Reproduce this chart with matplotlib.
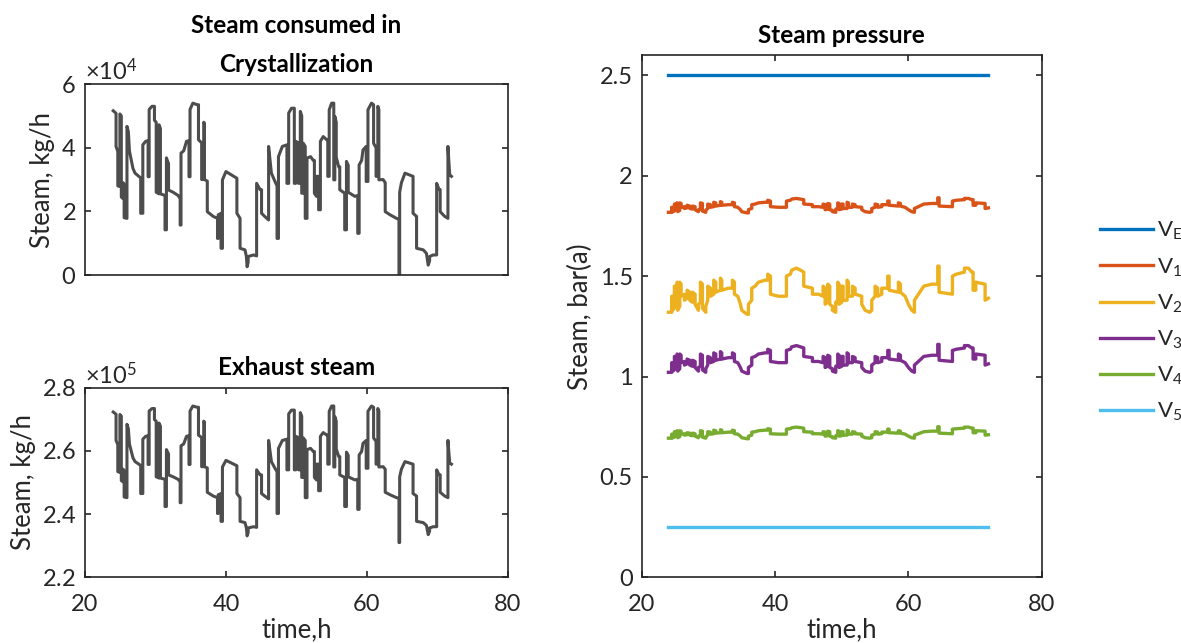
import matplotlib
matplotlib.use("Agg")
import matplotlib.pyplot as plt
from matplotlib.ticker import ScalarFormatter

# ---------------------------------------------------------------- data
# Steam flows (kg/h) sampled at the listed process times (h)
steam_time = [
    24.00, 24.40, 24.40, 24.65, 24.65, 24.95, 24.95, 25.15, 25.15, 25.40,
    25.40, 25.55, 25.55, 25.95, 25.95, 26.15, 26.30, 26.80, 27.10, 27.90,
    27.90, 28.20, 28.20, 28.60, 28.95, 28.95, 29.10, 29.10, 29.50, 29.85,
    29.85, 30.10, 30.10, 30.50, 30.50, 30.70, 30.70, 31.35, 31.35, 31.55,
    31.55, 31.85, 31.85, 32.50, 33.20, 33.50, 33.50, 33.62, 33.62, 34.00,
    34.40, 34.75, 34.75, 34.90, 34.90, 35.30, 35.90, 36.10, 36.10, 36.55,
    36.55, 36.85, 36.85, 36.95, 36.95, 37.35, 37.35, 38.20, 38.80, 38.80,
    38.90, 38.90, 39.30, 39.30, 39.50, 39.50, 40.00, 41.55, 41.55, 42.00,
    42.00, 42.70, 42.90, 43.00, 43.15, 43.15, 43.90, 44.35, 44.35, 44.85,
    45.05, 45.05, 45.50, 46.05, 46.05, 46.45, 46.95, 47.25, 47.25, 47.45,
    47.45, 48.00, 48.65, 48.65, 48.90, 48.90, 49.30, 49.70, 49.70, 49.90,
    49.90, 50.30, 50.30, 50.55, 50.55, 50.75, 50.75, 50.97, 50.97, 51.25,
    51.25, 51.50, 51.50, 52.00, 52.40, 52.55, 52.55, 52.85, 52.85, 53.15,
    53.15, 53.40, 53.40, 53.80, 54.30, 54.45, 54.45, 54.65, 54.65, 55.00,
    55.30, 55.30, 55.45, 55.45, 55.65, 55.65, 56.00, 56.15, 56.15, 56.85,
    56.85, 57.10, 57.10, 57.35, 57.35, 58.30, 58.70, 58.70, 58.90, 58.90,
    59.25, 59.45, 59.90, 59.90, 60.15, 60.15, 60.65, 60.95, 60.95, 61.30,
    61.30, 61.55, 61.55, 61.70, 61.70, 62.30, 62.60, 62.60, 63.30, 64.20,
    64.55, 64.55, 64.65, 64.65, 64.90, 65.40, 66.55, 66.55, 67.05, 67.05,
    68.00, 68.45, 68.70, 68.90, 68.90, 69.40, 69.90, 69.90, 70.25, 70.40,
    70.40, 71.05, 71.50, 71.50, 71.75, 72.00,
]

steam_crystallization = [
    51600, 50800, 40400, 38800, 28000, 27800, 50600, 50000, 24500, 24000,
    29000, 28500, 18000, 17800, 46700, 45000, 39000, 33500, 32000, 30500,
    19400, 19400, 40900, 42000, 42200, 30900, 30900, 52000, 53000, 53000,
    48600, 48000, 26000, 25500, 47200, 46000, 25500, 25000, 14200, 14200,
    36800, 35000, 26700, 26000, 25000, 24000, 15700, 15700, 38300, 39000,
    42000, 42200, 30900, 30900, 52000, 54000, 53500, 53500, 42500, 41500,
    30000, 30000, 48000, 47500, 30000, 29500, 19900, 18400, 17800, 11500,
    11500, 18900, 19400, 8400, 8400, 29900, 32500, 30400, 19400, 17800,
    8400, 7900, 5800, 2600, 4000, 5800, 6300, 6000, 28800, 26800,
    26800, 19400, 18400, 17300, 40400, 32000, 29400, 28000, 11500, 11500,
    37200, 40400, 40900, 28800, 28800, 50900, 52400, 52400, 28800, 28800,
    42000, 41500, 28800, 28800, 51400, 50000, 25700, 25700, 41400, 40400,
    17800, 17800, 36700, 37200, 36000, 36000, 25700, 24700, 31000, 31000,
    20500, 20500, 42000, 43500, 42500, 42500, 31000, 31000, 51900, 54000,
    54000, 29900, 29900, 49800, 48000, 37000, 34000, 34000, 26800, 25700,
    14200, 14200, 35700, 34500, 26000, 24700, 25000, 13100, 13100, 34600,
    36000, 39300, 40400, 29400, 29400, 51900, 54000, 53500, 41400, 40000,
    31000, 31000, 53000, 52000, 29900, 30000, 29000, 19900, 18900, 17800,
    17500, 0, 0, 26000, 29000, 32000, 31000, 19400, 18400, 8400,
    7900, 6800, 3100, 4500, 5800, 6300, 6300, 28800, 26800, 26800,
    19900, 18400, 17800, 40400, 31500, 31000,
]

steam_exhaust = [
    272300, 271600, 263300, 262000, 253400, 253200, 271500, 271000, 250600, 250200,
    254200, 253800, 245400, 245200, 268400, 267000, 262200, 257800, 256600, 255400,
    246500, 246500, 263700, 264600, 264800, 255700, 255700, 272600, 273400, 273400,
    269900, 269400, 251800, 251400, 268800, 267800, 251400, 251000, 242400, 242400,
    260400, 259000, 252400, 251800, 251000, 250200, 243600, 243600, 261600, 262200,
    264600, 264800, 255700, 255700, 272600, 274200, 273800, 273800, 265000, 264200,
    255000, 255000, 269400, 269000, 255000, 254600, 246900, 245700, 245200, 240200,
    240200, 246100, 246500, 237700, 237700, 254900, 257000, 255300, 246500, 245200,
    237700, 237300, 235600, 233100, 234200, 235600, 236000, 235800, 254000, 252400,
    252400, 246500, 245700, 244800, 263300, 256600, 254500, 253400, 240200, 240200,
    260800, 263300, 263700, 254000, 254000, 271700, 272900, 272900, 254000, 254000,
    264600, 264200, 254000, 254000, 272100, 271000, 251600, 251600, 264100, 263300,
    245200, 245200, 260400, 260800, 259800, 259800, 251600, 250800, 255800, 255800,
    247400, 247400, 264600, 265800, 265000, 265000, 255800, 255800, 272500, 274200,
    274200, 254900, 254900, 270800, 269400, 260600, 258200, 258200, 252400, 251600,
    242400, 242400, 259600, 258600, 251800, 250800, 251000, 241500, 241500, 258700,
    259800, 262400, 263300, 254500, 254500, 272500, 274200, 273800, 264100, 263000,
    255800, 255800, 273400, 272600, 254900, 255000, 254200, 246900, 246100, 245200,
    245000, 231000, 231000, 251800, 254200, 256600, 255800, 246500, 245700, 237700,
    237300, 236400, 233500, 234600, 235600, 236000, 236000, 254000, 252400, 252400,
    246900, 245700, 245200, 263300, 256200, 255800,
]

# Evaporator body pressures, bar(a)
pressure_time = [
    24.0, 24.5, 24.5, 24.6, 24.6, 24.9, 24.9, 25.0, 25.0, 25.3,
    25.3, 25.4, 25.4, 25.7, 25.7, 25.9, 25.9, 26.4, 26.4, 26.8,
    26.8, 27.2, 27.2, 27.6, 27.6, 28.0, 28.0, 28.5, 28.5, 28.8,
    28.8, 29.1, 29.1, 29.6, 29.6, 29.9, 29.9, 30.3, 30.3, 30.8,
    30.8, 31.1, 31.1, 31.8, 31.8, 32.0, 32.0, 33.0, 33.6, 33.6,
    33.9, 33.9, 34.4, 34.8, 35.0, 35.8, 36.0, 36.0, 36.5, 36.5,
    37.0, 37.5, 38.5, 38.9, 38.9, 39.3, 39.3, 40.5, 41.7, 41.7,
    42.3, 42.5, 43.2, 43.8, 44.3, 44.3, 45.6, 45.6, 46.5, 47.2,
    47.2, 47.5, 47.5, 47.9, 47.9, 48.2, 48.2, 48.6, 48.6, 49.1,
    49.1, 49.4, 49.4, 49.6, 49.6, 50.0, 50.0, 50.2, 50.2, 50.8,
    50.8, 51.0, 51.0, 51.6, 51.6, 52.0, 52.0, 53.0, 53.0, 53.5,
    54.2, 54.5, 54.5, 55.0, 55.0, 55.4, 55.4, 56.0, 56.0, 56.9,
    56.9, 57.1, 57.1, 58.5, 58.5, 58.8, 58.8, 59.5, 60.0, 60.5,
    60.9, 60.9, 61.5, 62.3, 63.5, 64.4, 64.4, 64.6, 64.6, 66.6,
    66.6, 67.2, 68.4, 68.4, 69.0, 69.5, 69.7, 69.7, 70.1, 70.1,
    71.5, 71.5, 72.0,
]

v_1 = [
    1.818, 1.818, 1.843, 1.843, 1.821, 1.824, 1.859, 1.859, 1.831, 1.831,
    1.865, 1.862, 1.821, 1.828, 1.865, 1.862, 1.843, 1.846, 1.837, 1.840,
    1.853, 1.849, 1.837, 1.834, 1.849, 1.846, 1.831, 1.821, 1.831, 1.834,
    1.865, 1.862, 1.824, 1.818, 1.828, 1.837, 1.859, 1.856, 1.843, 1.846,
    1.868, 1.865, 1.849, 1.853, 1.871, 1.868, 1.853, 1.856, 1.856, 1.868,
    1.865, 1.846, 1.843, 1.831, 1.821, 1.815, 1.815, 1.831, 1.837, 1.856,
    1.859, 1.865, 1.868, 1.868, 1.878, 1.874, 1.846, 1.843, 1.843, 1.874,
    1.878, 1.884, 1.887, 1.884, 1.881, 1.859, 1.856, 1.846, 1.846, 1.843,
    1.859, 1.856, 1.831, 1.834, 1.862, 1.859, 1.831, 1.828, 1.821, 1.818,
    1.834, 1.837, 1.865, 1.862, 1.831, 1.834, 1.859, 1.859, 1.837, 1.837,
    1.868, 1.865, 1.843, 1.843, 1.859, 1.856, 1.846, 1.843, 1.831, 1.821,
    1.818, 1.821, 1.837, 1.843, 1.859, 1.856, 1.843, 1.846, 1.856, 1.856,
    1.874, 1.874, 1.853, 1.849, 1.865, 1.862, 1.849, 1.843, 1.831, 1.821,
    1.818, 1.837, 1.846, 1.859, 1.862, 1.862, 1.890, 1.890, 1.849, 1.846,
    1.874, 1.878, 1.881, 1.887, 1.887, 1.881, 1.881, 1.853, 1.853, 1.865,
    1.862, 1.837, 1.840,
]

v_2 = [
    1.32, 1.32, 1.40, 1.40, 1.33, 1.34, 1.45, 1.45, 1.36, 1.36,
    1.47, 1.46, 1.33, 1.35, 1.47, 1.46, 1.40, 1.41, 1.38, 1.39,
    1.43, 1.42, 1.38, 1.37, 1.42, 1.41, 1.36, 1.33, 1.36, 1.37,
    1.47, 1.46, 1.34, 1.32, 1.35, 1.38, 1.45, 1.44, 1.40, 1.41,
    1.48, 1.47, 1.42, 1.43, 1.49, 1.48, 1.43, 1.44, 1.44, 1.48,
    1.47, 1.41, 1.40, 1.36, 1.33, 1.31, 1.31, 1.36, 1.38, 1.44,
    1.45, 1.47, 1.48, 1.48, 1.51, 1.50, 1.41, 1.40, 1.40, 1.50,
    1.51, 1.53, 1.54, 1.53, 1.52, 1.45, 1.44, 1.41, 1.41, 1.40,
    1.45, 1.44, 1.36, 1.37, 1.46, 1.45, 1.36, 1.35, 1.33, 1.32,
    1.37, 1.38, 1.47, 1.46, 1.36, 1.37, 1.45, 1.45, 1.38, 1.38,
    1.48, 1.47, 1.40, 1.40, 1.45, 1.44, 1.41, 1.40, 1.36, 1.33,
    1.32, 1.33, 1.38, 1.40, 1.45, 1.44, 1.40, 1.41, 1.44, 1.44,
    1.50, 1.50, 1.43, 1.42, 1.47, 1.46, 1.42, 1.40, 1.36, 1.33,
    1.32, 1.38, 1.41, 1.45, 1.46, 1.46, 1.55, 1.55, 1.42, 1.41,
    1.50, 1.51, 1.52, 1.54, 1.54, 1.52, 1.52, 1.43, 1.43, 1.47,
    1.46, 1.38, 1.39,
]

v_3 = [
    1.021, 1.021, 1.069, 1.069, 1.027, 1.033, 1.100, 1.100, 1.045, 1.045,
    1.112, 1.106, 1.027, 1.039, 1.112, 1.106, 1.069, 1.075, 1.057, 1.063,
    1.087, 1.081, 1.057, 1.051, 1.081, 1.075, 1.045, 1.027, 1.045, 1.051,
    1.112, 1.106, 1.033, 1.021, 1.039, 1.057, 1.100, 1.094, 1.069, 1.075,
    1.118, 1.112, 1.081, 1.087, 1.124, 1.118, 1.087, 1.094, 1.094, 1.118,
    1.112, 1.075, 1.069, 1.045, 1.027, 1.015, 1.015, 1.045, 1.057, 1.094,
    1.100, 1.112, 1.118, 1.118, 1.136, 1.130, 1.075, 1.069, 1.069, 1.130,
    1.136, 1.148, 1.154, 1.148, 1.142, 1.100, 1.094, 1.075, 1.075, 1.069,
    1.100, 1.094, 1.045, 1.051, 1.106, 1.100, 1.045, 1.039, 1.027, 1.021,
    1.051, 1.057, 1.112, 1.106, 1.045, 1.051, 1.100, 1.100, 1.057, 1.057,
    1.118, 1.112, 1.069, 1.069, 1.100, 1.094, 1.075, 1.069, 1.045, 1.027,
    1.021, 1.027, 1.057, 1.069, 1.100, 1.094, 1.069, 1.075, 1.094, 1.094,
    1.130, 1.130, 1.087, 1.081, 1.112, 1.106, 1.081, 1.069, 1.045, 1.027,
    1.021, 1.057, 1.075, 1.100, 1.106, 1.106, 1.160, 1.160, 1.081, 1.075,
    1.130, 1.136, 1.142, 1.154, 1.154, 1.142, 1.142, 1.087, 1.087, 1.112,
    1.106, 1.057, 1.063,
]

v_4 = [
    0.693, 0.693, 0.713, 0.713, 0.695, 0.698, 0.725, 0.725, 0.703, 0.703,
    0.730, 0.728, 0.695, 0.700, 0.730, 0.728, 0.713, 0.715, 0.708, 0.710,
    0.720, 0.718, 0.708, 0.705, 0.718, 0.715, 0.703, 0.695, 0.703, 0.705,
    0.730, 0.728, 0.698, 0.693, 0.700, 0.708, 0.725, 0.723, 0.713, 0.715,
    0.733, 0.730, 0.718, 0.720, 0.735, 0.733, 0.720, 0.723, 0.723, 0.733,
    0.730, 0.715, 0.713, 0.703, 0.695, 0.690, 0.690, 0.703, 0.708, 0.723,
    0.725, 0.730, 0.733, 0.733, 0.740, 0.738, 0.715, 0.713, 0.713, 0.738,
    0.740, 0.745, 0.748, 0.745, 0.743, 0.725, 0.723, 0.715, 0.715, 0.713,
    0.725, 0.723, 0.703, 0.705, 0.728, 0.725, 0.703, 0.700, 0.695, 0.693,
    0.705, 0.708, 0.730, 0.728, 0.703, 0.705, 0.725, 0.725, 0.708, 0.708,
    0.733, 0.730, 0.713, 0.713, 0.725, 0.723, 0.715, 0.713, 0.703, 0.695,
    0.693, 0.695, 0.708, 0.713, 0.725, 0.723, 0.713, 0.715, 0.723, 0.723,
    0.738, 0.738, 0.720, 0.718, 0.730, 0.728, 0.718, 0.713, 0.703, 0.695,
    0.693, 0.708, 0.715, 0.725, 0.728, 0.728, 0.750, 0.750, 0.718, 0.715,
    0.738, 0.740, 0.743, 0.748, 0.748, 0.743, 0.743, 0.720, 0.720, 0.730,
    0.728, 0.708, 0.710,
]

# Exhaust-steam header (V_E) and last-effect vapour (V_5) are held constant
header_time = [24.0, 72.0]
v_e = [2.5, 2.5]
v_5 = [0.25, 0.25]

legend_labels = [r'V$_\mathrm{E}$', r'V$_\mathrm{1}$', r'V$_\mathrm{2}$',
                 r'V$_\mathrm{3}$', r'V$_\mathrm{4}$', r'V$_\mathrm{5}$']
series_colors = ['#0072BD', '#D95319', '#EDB120', '#7E2F8E', '#77AC30', '#4DBEEE']

# ---------------------------------------------------------------- style
plt.rcParams['font.family'] = ['Lato', 'DejaVu Sans']
plt.rcParams['mathtext.fontset'] = 'custom'
plt.rcParams['mathtext.rm'] = 'Lato'
plt.rcParams['mathtext.it'] = 'Lato:italic'
plt.rcParams['mathtext.bf'] = 'Lato:bold'

TXT = '#262626'
FS_TICK = 17
FS_LABEL = 18.5
FS_TITLE = 17.5
FS_LEG = 16
LINE_GREY = '#4d4d4d'

fig = plt.figure(figsize=(11.81, 6.43), dpi=100)
ax_cr = fig.add_axes([0.072, 0.5723, 0.358, 0.297])
ax_ex = fig.add_axes([0.072, 0.1022, 0.358, 0.2949])
ax_p = fig.add_axes([0.5434, 0.1022, 0.3387, 0.8118])


def style_axes(ax):
    for s in ax.spines.values():
        s.set_linewidth(1.2)
        s.set_color(TXT)
    ax.tick_params(direction='in', length=4, width=1.2, top=True, right=True,
                   labelsize=FS_TICK, colors=TXT)
    ax.tick_params(axis='y', pad=6.5)
    ax.tick_params(axis='x', pad=12)


def sci_axis(ax):
    fmt = ScalarFormatter(useMathText=True, useOffset=False)
    fmt.set_powerlimits((0, 0))
    ax.yaxis.set_major_formatter(fmt)
    ax.yaxis.get_offset_text().set_fontsize(FS_TICK)
    ax.yaxis.get_offset_text().set_color(TXT)


# ---- crystallization steam
ax_cr.plot(steam_time, steam_crystallization, color=LINE_GREY, lw=2.2)
ax_cr.set_xlim(20, 80)
ax_cr.set_ylim(0, 60000)
ax_cr.set_yticks([0, 20000, 40000, 60000])
ax_cr.set_xticks([])
style_axes(ax_cr)
sci_axis(ax_cr)
ax_cr.set_ylabel('Steam, kg/h', fontsize=FS_LABEL, color=TXT, labelpad=4)
ax_cr.set_title('Steam consumed in\nCrystallization', fontsize=FS_TITLE,
                fontweight='bold', y=1.0, pad=9, linespacing=1.8)

# ---- exhaust steam
ax_ex.plot(steam_time, steam_exhaust, color=LINE_GREY, lw=2.2)
ax_ex.set_xlim(20, 80)
ax_ex.set_ylim(220000, 280000)
ax_ex.set_xticks([20, 40, 60, 80])
ax_ex.set_yticks([220000, 240000, 260000, 280000])
style_axes(ax_ex)
sci_axis(ax_ex)
ax_ex.set_ylabel('Steam, kg/h', fontsize=FS_LABEL, color=TXT, labelpad=4)
ax_ex.set_xlabel('time,h', fontsize=FS_LABEL, color=TXT, labelpad=2)
ax_ex.set_title('Exhaust steam', fontsize=FS_TITLE, fontweight='bold',
                y=1.0, pad=9)

# ---- pressures
pressure_series = [
    (header_time, v_e), (pressure_time, v_1), (pressure_time, v_2),
    (pressure_time, v_3), (pressure_time, v_4), (header_time, v_5),
]
handles = []
for (tt, vv), col, lab in zip(pressure_series, series_colors, legend_labels):
    h, = ax_p.plot(tt, vv, color=col, lw=2.4, label=lab)
    handles.append(h)
ax_p.set_xlim(20, 80)
ax_p.set_ylim(0, 2.6)
ax_p.set_xticks([20, 40, 60, 80])
ax_p.set_yticks([0, 0.5, 1, 1.5, 2, 2.5])
ax_p.set_yticklabels(['0', '0.5', '1', '1.5', '2', '2.5'])
style_axes(ax_p)
ax_p.set_ylabel('Steam, bar(a)', fontsize=FS_LABEL, color=TXT, labelpad=5)
ax_p.set_xlabel('time,h', fontsize=FS_LABEL, color=TXT, labelpad=2)
ax_p.set_title('Steam pressure', fontsize=FS_TITLE, fontweight='bold',
               y=1.0, pad=9)

fig.legend(handles=handles, labels=legend_labels, loc='center left',
           bbox_to_anchor=(1100 / 1181, 0.50), frameon=False, fontsize=FS_LEG,
           handlelength=2.4, handletextpad=0.15, labelspacing=0.62,
           borderpad=0, borderaxespad=0, labelcolor=TXT)

fig.savefig('out.png', dpi=100)
